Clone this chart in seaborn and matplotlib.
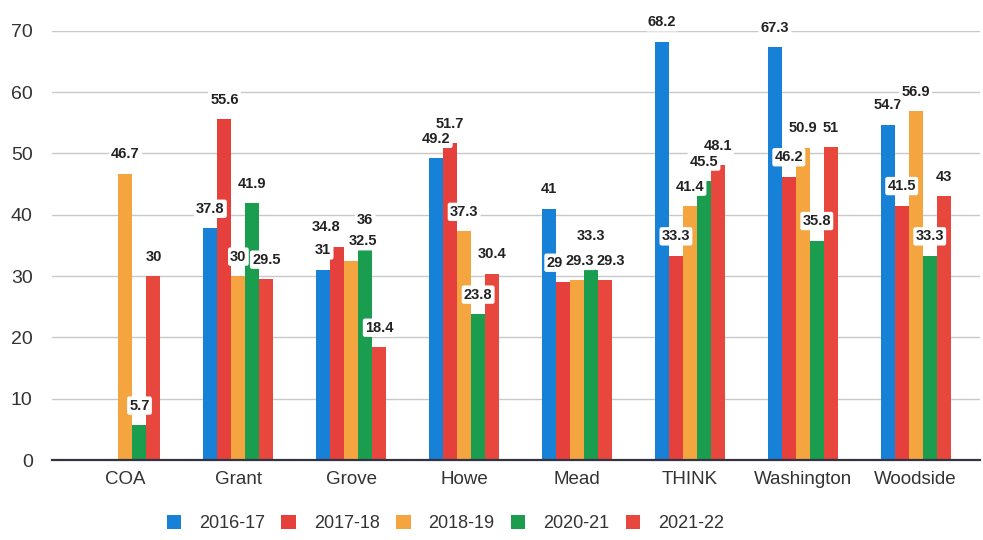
import matplotlib
matplotlib.use("Agg")
import matplotlib.pyplot as plt
import numpy as np
import pandas as pd
import seaborn as sns

schools = ["COA", "Grant", "Grove", "Howe", "Mead", "THINK", "Washington", "Woodside"]
years = ["2016-17", "2017-18", "2018-19", "2020-21", "2021-22"]

y2016_17 = [np.nan, 37.8, 31, 49.2, 41, 68.2, 67.3, 54.7]
y2017_18 = [np.nan, 55.6, 34.8, 51.7, 29, 33.3, 46.2, 41.5]
y2018_19 = [46.7, 30, 32.5, 37.3, 29.3, 41.4, 50.9, 56.9]
y2020_21 = [5.7, 41.9, 36, 23.8, 33.3, 45.5, 35.8, 33.3]
y2021_22 = [30, 29.5, 18.4, 30.4, 29.3, 48.1, 51, 43]

colors = ["#1681d6", "#e5403b", "#f4a53f", "#1b9d50", "#e8473d"]

series = [y2016_17, y2017_18, y2018_19, y2020_21, y2021_22]
df = pd.DataFrame({
    "school": schools * len(years),
    "year": [y for y in years for _ in schools],
    "value": [v for s in series for v in s],
})

sns.set_style("white")
plt.rcParams["font.family"] = ["Liberation Sans", "DejaVu Sans"]

fig = plt.figure(figsize=(9.83, 5.4), dpi=100)
ax = fig.add_axes([0.053, 0.148, 0.944, 0.795])

sns.barplot(data=df, x="school", y="value", hue="year", hue_order=years,
            order=schools, palette=colors, width=0.62, gap=0,
            saturation=1, edgecolor="none", ax=ax)

# value labels on top of each bar
texts = []
for container in ax.containers:
    labels = ["" if np.isnan(v) else f"{v:g}" for v in container.datavalues]
    texts += ax.bar_label(container, labels=labels, padding=9, fontsize=10.5,
                          fontweight="bold", color="#222222", clip_on=False,
                          bbox=dict(boxstyle="round,pad=0.15", fc="white", ec="none"))

# crude nudge so that labels sitting at the same height don't overlap
fig.canvas.draw()
texts = [t for t in texts if t.get_text()]
for _ in range(5):
    boxes = [t.get_window_extent() for t in texts]
    for i in range(len(texts)):
        for j in range(len(texts)):
            if i == j:
                continue
            a, b = boxes[i], boxes[j]
            if a.x0 < b.x0 and a.overlaps(b):
                shift = (a.x1 - b.x0) / 2 + 1
                for t, s in ((texts[i], -shift), (texts[j], shift)):
                    x, y = t.get_position()
                    t.set_position((x + s, y))
    fig.canvas.draw()

ax.set_ylim(0, 70)
ax.set_xlim(-0.65, 7.57)
ax.set_yticks(range(0, 71, 10))
ax.grid(axis="y", color="#c8c8c8", linewidth=1)
ax.set_axisbelow(True)
for side in ["left", "right", "top"]:
    ax.spines[side].set_visible(False)
ax.spines["bottom"].set_color("#333344")
ax.spines["bottom"].set_linewidth(1.6)
ax.tick_params(axis="y", length=0, labelsize=14, labelcolor="#333333", pad=14)
ax.tick_params(axis="x", length=0, labelsize=13.5, labelcolor="#333333", pad=8)
ax.set_xlabel("")
ax.set_ylabel("")

ax.legend(loc="upper center", bbox_to_anchor=(0.424, -0.09), ncol=5,
          frameon=False, fontsize=13, handlelength=0.8, handleheight=0.8,
          handletextpad=1.0, columnspacing=0.9, labelcolor="#333333")

fig.savefig("out.png", dpi=100)
